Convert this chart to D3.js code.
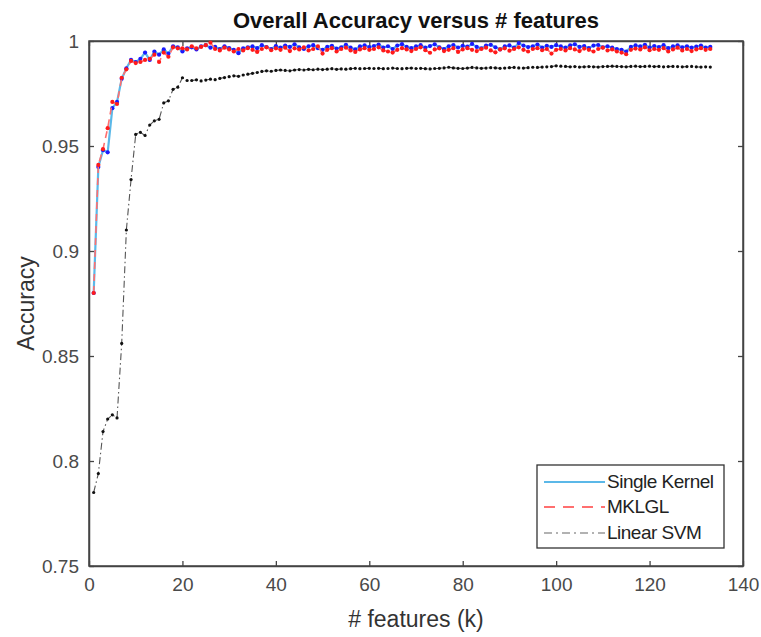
<!DOCTYPE html>
<html><head><meta charset="utf-8">
<script src="https://cdn.jsdelivr.net/npm/d3@7"></script>
<style>
html,body{margin:0;padding:0;background:#fff;}
svg{display:block;font-family:"Liberation Sans",Arial,sans-serif;}
</style></head>
<body><svg id="c" width="761" height="637"></svg>
<script>
const title = "Overall Accuracy versus # features";
const xLabel = "# features (k)";
const yLabel = "Accuracy";
const xTicks = [0,20,40,60,80,100,120,140];
const yTicks = [0.75,0.8,0.85,0.9,0.95,1];
const yTickLabels = ["0.75","0.8","0.85","0.9","0.95","1"];
const seriesNames = ["Single Kernel","MKLGL","Linear SVM"];

const singleKernel = [
0.880,0.940,0.948,0.947,0.968,0.971,0.982,0.987,0.991,0.990,0.9915,0.9945,0.991,0.995,0.9935,0.996,0.994,0.9975,0.997,0.995,
0.9965,0.9970,0.9960,0.9975,0.9980,0.9968,0.9972,0.9962,0.9975,0.9966,0.9958,0.9942,0.9965,0.9970,0.9974,0.9966,0.9980,0.9971,0.9962,0.9976,
0.9968,0.9978,0.9972,0.9984,0.9970,0.9962,0.9975,0.9980,0.9966,0.9958,0.9972,0.9977,0.9964,0.9970,0.9982,0.9968,0.9960,0.9974,0.9979,0.9971,
0.9976,0.9983,0.9969,0.9975,0.9962,0.9978,0.9985,0.9972,0.9966,0.9974,0.9980,0.9968,0.9976,0.9984,0.9970,0.9962,0.9975,0.9981,0.9969,0.9977,
0.9973,0.9986,0.9972,0.9965,0.9978,0.9982,0.9970,0.9960,0.9974,0.9979,0.9968,0.9990,0.9978,0.9971,0.9975,0.9983,0.9969,0.9977,0.9972,0.9980,
0.9974,0.9968,0.9979,0.9984,0.9972,0.9976,0.9966,0.9978,0.9981,0.9970,0.9975,0.9968,0.9962,0.9958,0.9950,0.9972,0.9979,0.9974,0.9982,0.9969,
0.9976,0.9971,0.9980,0.9966,0.9974,0.9979,0.9970,0.9975,0.9968,0.9973,0.9978,0.9969,0.9972];

const mklgl = [
0.880,0.941,0.9485,0.9585,0.971,0.970,0.9825,0.9865,0.9905,0.9895,0.990,0.991,0.9915,0.9935,0.990,0.9945,0.9925,0.9970,0.9965,0.9965,
0.9960,0.9975,0.9965,0.9972,0.9980,0.9992,0.9962,0.9955,0.9968,0.9960,0.9950,0.9962,0.9955,0.9966,0.9958,0.9948,0.9962,0.9970,0.9956,0.9965,
0.9958,0.9968,0.9952,0.9965,0.9960,0.9970,0.9955,0.9962,0.9975,0.9940,0.9958,0.9966,0.9950,0.9962,0.9968,0.9955,0.9948,0.9960,0.9966,0.9958,
0.9962,0.9970,0.9955,0.9950,0.9945,0.9958,0.9966,0.9960,0.9952,0.9962,0.9970,0.9956,0.9944,0.9960,0.9965,0.9952,0.9958,0.9966,0.9948,0.9960,
0.9966,0.9958,0.9952,0.9962,0.9968,0.9955,0.9946,0.9960,0.9965,0.9954,0.9962,0.9970,0.9958,0.9950,0.9962,0.9966,0.9956,0.9962,0.9940,0.9958,
0.9962,0.9955,0.9966,0.9960,0.9952,0.9964,0.9958,0.9950,0.9962,0.9968,0.9955,0.9960,0.9950,0.9945,0.9937,0.9958,0.9964,0.9960,0.9970,0.9956,
0.9962,0.9958,0.9966,0.9950,0.9960,0.9968,0.9955,0.9962,0.9952,0.9960,0.9966,0.9958,0.9962];

const linearSVM = [
0.785,0.794,0.814,0.820,0.822,0.8205,0.856,0.910,0.934,0.9555,0.9565,0.955,0.960,0.962,0.9627,0.9705,0.9715,0.977,0.978,0.9825,
0.9812,0.9812,0.9815,0.9810,0.9814,0.9818,0.9816,0.9822,0.9826,0.9830,0.9834,0.9832,0.9838,0.9842,0.9846,0.9850,0.9855,0.9858,0.9856,0.9860,
0.9862,0.9860,0.9858,0.9862,0.9864,0.9862,0.9865,0.9863,0.9866,0.9864,0.9866,0.9868,0.9865,0.9867,0.9866,0.9868,0.9870,0.9868,0.9869,0.9870,
0.9869,0.9870,0.9868,0.9869,0.9871,0.9869,0.9868,0.9870,0.9871,0.9869,0.9870,0.9868,0.9867,0.9869,0.9870,0.9872,0.9875,0.9872,0.9870,0.9869,
0.9871,0.9874,0.9872,0.9870,0.9871,0.9873,0.9872,0.9870,0.9871,0.9873,0.9874,0.9872,0.9871,0.9873,0.9875,0.9874,0.9876,0.9877,0.9878,0.9882,
0.9880,0.9879,0.9877,0.9878,0.9876,0.9877,0.9878,0.9877,0.9876,0.9878,0.9879,0.9880,0.9879,0.9878,0.9877,0.9879,0.9880,0.9878,0.9879,0.9880,
0.9878,0.9879,0.9877,0.9878,0.9879,0.9878,0.9877,0.9878,0.9879,0.9877,0.9876,0.9877,0.9876];

const svg = d3.select("#c");
const L = 89, R = 743, T = 41, B = 566;
const x = d3.scaleLinear().domain([0,140]).range([L,R]);
const y = d3.scaleLinear().domain([0.75,1]).range([B,T]);
const axisColor = "#444";

svg.append("rect").attr("x",L).attr("y",T).attr("width",R-L).attr("height",B-T)
  .attr("fill","#fff").attr("stroke",axisColor).attr("stroke-width",1.5);

const fmtY = d=>yTickLabels[yTicks.indexOf(d)];
const gx = svg.append("g").attr("transform",`translate(0,${B})`)
  .call(d3.axisBottom(x).tickValues(xTicks).tickSizeInner(-5).tickSizeOuter(0).tickPadding(12));
const gxt = svg.append("g").attr("transform",`translate(0,${T})`)
  .call(d3.axisTop(x).tickValues(xTicks).tickSizeInner(-5).tickSizeOuter(0).tickFormat(""));
const gy = svg.append("g").attr("transform",`translate(${L},0)`)
  .call(d3.axisLeft(y).tickValues(yTicks).tickSizeInner(-5).tickSizeOuter(0).tickPadding(10).tickFormat(fmtY));
const gyr = svg.append("g").attr("transform",`translate(${R},0)`)
  .call(d3.axisRight(y).tickValues(yTicks).tickSizeInner(-5).tickSizeOuter(0).tickFormat(""));
[gx,gxt,gy,gyr].forEach(g=>{
  g.select(".domain").attr("stroke",axisColor).attr("stroke-width",1.5);
  g.selectAll(".tick line").attr("stroke",axisColor).attr("stroke-width",1.3);
  g.selectAll(".tick text").attr("fill","#4a4a4a").attr("font-size","19px")
   .attr("font-family","'Liberation Sans',Arial,sans-serif");
});

const series = [
  {name:seriesNames[0], data:singleKernel, line:"#5bb8e8", w:2.2, dash:null, dot:"#1a1aff", r:2.1},
  {name:seriesNames[1], data:mklgl, line:"#ff6f6f", w:1.6, dash:"7,5", dot:"#ff1a1a", r:2.1},
  {name:seriesNames[2], data:linearSVM, line:"#555", w:1.1, dash:"7,3,1.5,3", dot:"#111", r:1.6}
];
const line = d3.line().x((d,i)=>x(i+1)).y(d=>y(d));
const plot = svg.append("g");
series.forEach(s=>{
  plot.append("path").datum(s.data).attr("d",line).attr("fill","none")
    .attr("stroke",s.line).attr("stroke-width",s.w).attr("stroke-dasharray",s.dash);
  plot.selectAll(null).data(s.data).enter().append("circle")
    .attr("cx",(d,i)=>x(i+1)).attr("cy",d=>y(d)).attr("r",s.r)
    .attr("fill",s.dot);
});

svg.append("text").attr("x",416).attr("y",28).attr("text-anchor","middle")
  .attr("font-size","22px").attr("font-weight","bold").attr("fill","#111").text(title);
svg.append("text").attr("x",416).attr("y",627).attr("text-anchor","middle")
  .attr("font-size","23px").attr("fill","#333").text(xLabel);
svg.append("text").attr("transform",`translate(34,${(T+B)/2}) rotate(-90)`).attr("text-anchor","middle")
  .attr("font-size","23px").attr("fill","#333").text(yLabel);

const lg = svg.append("g");
lg.append("rect").attr("x",537).attr("y",465).attr("width",187).attr("height",83)
  .attr("fill","#fff").attr("stroke","#333").attr("stroke-width",1.3);
const rows = [482,507,533];
series.forEach((s,i)=>{
  lg.append("line").attr("x1",544).attr("x2",605).attr("y1",rows[i]).attr("y2",rows[i])
    .attr("stroke",i===2?"#999":s.line).attr("stroke-width",i===2?1.6:2.2).attr("stroke-dasharray",i===1?"11,8":(i===2?"8,4,2,4":null));
  lg.append("text").attr("x",607).attr("y",rows[i]+6).attr("font-size","19px")
    .attr("letter-spacing","-0.5px").attr("fill","#222").text(s.name);
});
</script></body></html>
